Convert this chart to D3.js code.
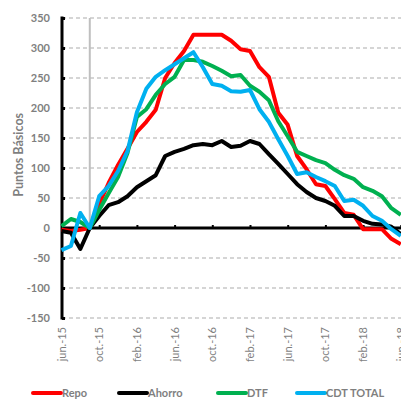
<!DOCTYPE html>
<html><head><meta charset="utf-8">
<script src="https://cdn.jsdelivr.net/npm/d3@7"></script>
<style>body{margin:0;background:#fff}svg{display:block}</style>
</head><body>
<script>
const months = ["jun.-15","jul.-15","ago.-15","sep.-15","oct.-15","nov.-15","dic.-15",
"ene.-16","feb.-16","mar.-16","abr.-16","may.-16","jun.-16","jul.-16","ago.-16","sep.-16","oct.-16","nov.-16","dic.-16",
"ene.-17","feb.-17","mar.-17","abr.-17","may.-17","jun.-17","jul.-17","ago.-17","sep.-17","oct.-17","nov.-17","dic.-17",
"ene.-18","feb.-18","mar.-18","abr.-18","may.-18","jun.-18"];
const tickLabels = ["jun.-15","oct.-15","feb.-16","jun.-16","oct.-16","feb.-17","jun.-17","oct.-17","feb.-18","jun.-18"];
const yTicks = [-150,-100,-50,0,50,100,150,200,250,300,350];
const repo   = [-3,-5,-3,0,40,75,105,132,160,177,197,250,275,295,322,322,322,322,312,298,295,268,252,192,172,120,98,73,70,48,25,22,-2,-2,-2,-18,-27];
const ahorro = [-5,-8,-35,0,20,38,43,53,68,78,88,120,127,132,138,140,138,145,135,137,145,140,123,107,90,73,60,50,45,37,20,20,12,7,6,2,-10];
const dtf    = [3,15,10,0,30,58,85,125,185,198,222,240,252,280,280,277,270,262,253,255,237,227,213,178,153,127,120,113,108,97,88,82,68,62,53,33,22];
const cdt    = [-37,-30,25,0,53,70,95,128,193,232,252,263,273,283,293,268,240,237,228,227,230,198,177,148,120,90,93,85,78,70,45,47,37,20,12,-2,-13];
const seriesNames = ["Repo","Ahorro","DTF","CDT TOTAL"];
const seriesColors = ["#ff0000","#000000","#00b050","#00b0f0"];
const baseMonth = "sep.-15";

const W=401,H=401;
const svg=d3.select("body").append("svg").attr("width",W).attr("height",H);
const x=d3.scalePoint().domain(months).range([61.5,400.8]);
const y=d3.scaleLinear().domain([-150,350]).range([318,18]);
const gray="#7f7f7f";

// gridlines
svg.append("g").selectAll("line").data(yTicks.filter(d=>d!==0)).join("line")
 .attr("x1",62).attr("x2",W).attr("y1",d=>y(d)).attr("y2",d=>y(d))
 .attr("stroke","#c8c8c8").attr("stroke-width",1.3).attr("stroke-dasharray","4,3");

// gray vertical marker
svg.append("line").attr("x1",x(baseMonth)).attr("x2",x(baseMonth)).attr("y1",y(350)).attr("y2",y(0))
 .attr("stroke","#bfbfbf").attr("stroke-width",2);

// y axis
const yAxis=d3.axisRight(y).tickValues(yTicks).tickSize(3).tickFormat("");
const gy=svg.append("g").attr("transform","translate(62,0)").call(yAxis);
gy.select(".domain").remove();
gy.selectAll(".tick line").attr("stroke","#000").attr("stroke-width",3);
svg.append("line").attr("x1",62).attr("x2",62).attr("y1",y(350)-1.5).attr("y2",y(-150)+1.5).attr("stroke","#000").attr("stroke-width",3);
svg.append("g").selectAll("text").data(yTicks).join("text")
 .attr("x",50).attr("y",d=>y(d)+4).attr("text-anchor","end")
 .attr("font-family","Lato").attr("font-weight","bold").attr("font-size",11).attr("fill",gray).text(d=>d);

// y title
svg.append("text").attr("transform",`translate(23,${y(122)}) rotate(-90)`).attr("text-anchor","middle")
 .attr("font-family","Lato").attr("font-weight","bold").attr("font-size",12.5).attr("fill",gray).text("Puntos Básicos");

// x zero axis
const xAxis=d3.axisTop(x).tickValues(tickLabels.slice(1)).tickSize(3).tickFormat("");
const gx=svg.append("g").attr("transform",`translate(0,${y(0)})`).call(xAxis);
gx.select(".domain").remove();
gx.selectAll(".tick line").attr("stroke","#000").attr("stroke-width",2);
svg.append("line").attr("x1",62).attr("x2",W).attr("y1",y(0)).attr("y2",y(0)).attr("stroke","#000").attr("stroke-width",3);

// x labels
svg.append("g").selectAll("text").data(tickLabels).join("text")
 .attr("transform",d=>`translate(${x(d)+4},327) rotate(-90)`).attr("text-anchor","end")
 .attr("font-family","Lato").attr("font-size",11).attr("fill",gray).text(d=>d);

// lines
const line=d3.line().x((d,i)=>x(months[i])).y(d=>y(d));
[repo,ahorro,dtf,cdt].forEach((s,k)=>{
 svg.append("path").datum(s).attr("d",line).attr("fill","none")
  .attr("stroke",seriesColors[k]).attr("stroke-width",4).attr("stroke-linejoin","round");
});

// legend
const legX=[33,119,218,297];
seriesNames.forEach((n,k)=>{
 svg.append("line").attr("x1",legX[k]).attr("x2",legX[k]+28).attr("y1",393).attr("y2",393)
  .attr("stroke",seriesColors[k]).attr("stroke-width",4).attr("stroke-linecap","round");
 svg.append("text").attr("x",legX[k]+29).attr("y",397).attr("font-family","Lato").attr("font-weight","bold")
  .attr("font-size",11).attr("fill",gray).text(n);
});
</script>
</body></html>
